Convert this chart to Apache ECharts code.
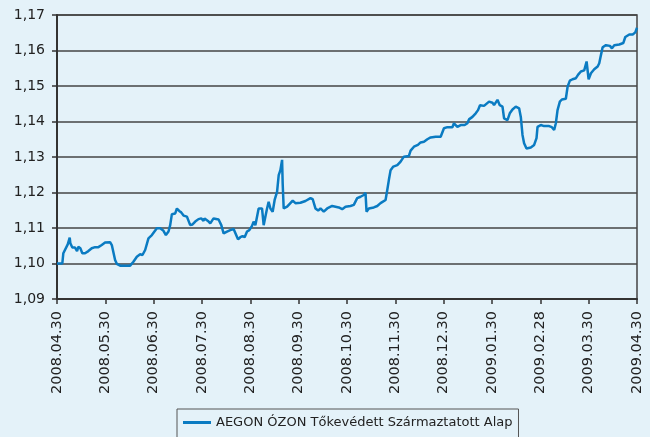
<!DOCTYPE html>
<html>
<head>
<meta charset="utf-8">
<script src="https://cdn.jsdelivr.net/npm/echarts@6/dist/echarts.min.js"></script>
<style>
  html, body { margin: 0; padding: 0; background: #e4f2f9; }
  #chart { width: 650px; height: 437px; }
</style>
</head>
<body>
<div id="chart"></div>
<script>
// Étiquettes de l'axe des dates (une par mois)
const dateLabels = ["2008.04.30", "2008.05.30", "2008.06.30", "2008.07.30", "2008.08.30",
    "2008.09.30", "2008.10.30", "2008.11.30", "2008.12.30", "2009.01.30",
    "2009.02.28", "2009.03.30", "2009.04.30"];

// Position en mois depuis 2008.04.30
const monthPos = [
    0, 0.110, 0.131, 0.166, 0.222, 0.263, 0.276, 0.317, 0.373, 0.415,
    0.441, 0.483, 0.524, 0.580, 0.649, 0.719, 0.788, 0.856, 0.926, 0.995,
    1.098, 1.134, 1.202, 1.237, 1.306, 1.513, 1.581, 1.652, 1.720, 1.768,
    1.824, 1.892, 1.963, 1.996, 2.066, 2.135, 2.203, 2.253, 2.307, 2.342,
    2.377, 2.446, 2.481, 2.528, 2.570, 2.618, 2.688, 2.756, 2.804, 2.860,
    2.928, 2.984, 3.032, 3.053, 3.123, 3.171, 3.239, 3.343, 3.399, 3.447,
    3.517, 3.585, 3.654, 3.689, 3.745, 3.793, 3.840, 3.882, 3.932, 3.979,
    4.035, 4.068, 4.104, 4.172, 4.242, 4.276, 4.311, 4.346, 4.379, 4.415,
    4.462, 4.503, 4.553, 4.587, 4.622, 4.657, 4.669, 4.690, 4.761, 4.829,
    4.877, 4.933, 5.036, 5.140, 5.244, 5.291, 5.347, 5.403, 5.451, 5.519,
    5.590, 5.693, 5.762, 5.830, 5.901, 5.969, 6.073, 6.141, 6.211, 6.280,
    6.348, 6.383, 6.404, 6.452, 6.555, 6.626, 6.694, 6.798, 6.833, 6.866,
    6.902, 6.958, 7.041, 7.109, 7.177, 7.281, 7.316, 7.385, 7.467, 7.523,
    7.592, 7.662, 7.731, 7.834, 7.938, 8.006, 8.077, 8.180, 8.213, 8.249,
    8.284, 8.352, 8.435, 8.491, 8.524, 8.595, 8.663, 8.711, 8.752, 8.835,
    8.870, 8.939, 9.009, 9.042, 9.113, 9.161, 9.217, 9.250, 9.320, 9.368,
    9.424, 9.492, 9.561, 9.596, 9.631, 9.664, 9.714, 9.803, 9.872, 9.921,
    9.942, 10.010, 10.079, 10.182, 10.238, 10.286, 10.321, 10.356, 10.404, 10.446,
    10.528, 10.564, 10.611, 10.667, 10.736, 10.783, 10.839, 10.908, 10.957, 10.999,
    11.047, 11.115, 11.186, 11.219, 11.254, 11.289, 11.358, 11.440, 11.482, 11.530,
    11.633, 11.716, 11.758, 11.841, 11.911, 11.965, 12
];

// Valeur de la part
const navValues = [
    1.1000, 1.1000, 1.1029, 1.1033, 1.1054, 1.1073, 1.1057, 1.1045, 1.1045, 1.1035,
    1.1047, 1.1043, 1.1029, 1.1029, 1.1035, 1.1043, 1.1046, 1.1046, 1.1052, 1.1059,
    1.1060, 1.1052, 1.1010, 1.0999, 1.0994, 1.0994, 1.1005, 1.1019, 1.1026, 1.1024,
    1.1038, 1.1071, 1.1080, 1.1075, 1.1099, 1.1099, 1.1092, 1.1080, 1.1090, 1.1108,
    1.1139, 1.1141, 1.1155, 1.1148, 1.1144, 1.1135, 1.1132, 1.1108, 1.1110, 1.1118,
    1.1125, 1.1127, 1.1120, 1.1127, 1.1120, 1.1113, 1.1127, 1.1124, 1.1108, 1.1085,
    1.1090, 1.1094, 1.1097, 1.1094, 1.1068, 1.1074, 1.1077, 1.1074, 1.1090, 1.1094,
    1.1106, 1.1118, 1.1108, 1.1155, 1.1155, 1.1108, 1.1132, 1.1155, 1.1174, 1.1155,
    1.1146, 1.1179, 1.1202, 1.1249, 1.1263, 1.1292, 1.1226, 1.1155, 1.1160, 1.1170,
    1.1177, 1.1170, 1.1171, 1.1176, 1.1184, 1.1181, 1.1155, 1.1149, 1.1155, 1.1146,
    1.1155, 1.1162, 1.1160, 1.1158, 1.1153, 1.1160, 1.1162, 1.1165, 1.1184, 1.1188,
    1.1193, 1.1199, 1.1146, 1.1155, 1.1158, 1.1162, 1.1170, 1.1179, 1.1207, 1.1235,
    1.1263, 1.1273, 1.1277, 1.1287, 1.1301, 1.1303, 1.1318, 1.1329, 1.1334, 1.1341,
    1.1343, 1.1350, 1.1355, 1.1357, 1.1357, 1.1381, 1.1384, 1.1384, 1.1395, 1.1400,
    1.1385, 1.1390, 1.1390, 1.1395, 1.1406, 1.1413, 1.1423, 1.1432, 1.1446, 1.1444,
    1.1444, 1.1456, 1.1453, 1.1446, 1.1461, 1.1446, 1.1442, 1.1409, 1.1404, 1.1423,
    1.1434, 1.1442, 1.1437, 1.1413, 1.1362, 1.1339, 1.1324, 1.1327, 1.1334, 1.1353,
    1.1385, 1.1390, 1.1387, 1.1387, 1.1384, 1.1376, 1.1395, 1.1432, 1.1456, 1.1462,
    1.1464, 1.1498, 1.1515, 1.1519, 1.1522, 1.1532, 1.1541, 1.1544, 1.1569, 1.1519,
    1.1536, 1.1547, 1.1555, 1.1564, 1.1587, 1.1609, 1.1615, 1.1613, 1.1606, 1.1615,
    1.1617, 1.1621, 1.1638, 1.1645, 1.1645, 1.1651, 1.1664
];

const seriesName = "AEGON ÓZON Tőkevédett Származtatott Alap";

const chart = echarts.init(document.getElementById("chart"));
const option = {
    backgroundColor: "#e4f2f9",
    animation: false,
    textStyle: { fontFamily: "DejaVu Sans, sans-serif" },
    grid: {
        left: 57, right: 13, top: 15, bottom: 138,
        show: true, borderColor: "#444", borderWidth: 1.5
    },
    legend: {
        data: [{ name: seriesName }],
        left: 177, top: 409,
        padding: [7, 6, 14, 6],
        borderColor: "#555", borderWidth: 1,
        icon: "rect", itemWidth: 28, itemHeight: 3, itemGap: 5,
        textStyle: { fontSize: 13, color: "#222" }
    },
    xAxis: {
        type: "value", min: 0, max: 12, interval: 1,
        axisLine: { lineStyle: { color: "#333", width: 2 } },
        axisTick: { show: true, length: 5, lineStyle: { color: "#333", width: 1.5 } },
        splitLine: { show: false },
        axisLabel: {
            rotate: 90, fontSize: 14.5, color: "#222", margin: 12,
            formatter: v => dateLabels[Math.round(v)] || ""
        }
    },
    yAxis: {
        type: "value", min: 1.09, max: 1.17, interval: 0.01,
        axisLine: { show: true, lineStyle: { color: "#333", width: 2 } },
        axisTick: { show: true, length: 5, lineStyle: { color: "#333", width: 1.5 } },
        splitLine: { lineStyle: { color: "#444", width: 1.5 } },
        axisLabel: {
            fontSize: 14, color: "#222", margin: 12,
            formatter: v => v.toFixed(2).replace(".", ",")
        }
    },
    series: [{
        name: seriesName,
        type: "line",
        data: monthPos.map((m, i) => [m, navValues[i]]),
        showSymbol: false,
        lineStyle: { color: "#0a7bc2", width: 2.5 },
        itemStyle: { color: "#0a7bc2" }
    }]
};
chart.setOption(option);
</script>
</body>
</html>
